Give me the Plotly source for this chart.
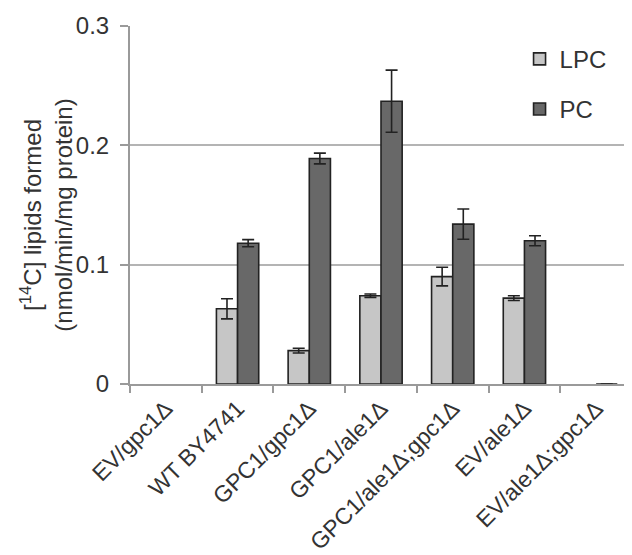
import plotly.graph_objects as go

categories = ["EV/gpc1Δ", "WT BY4741", "GPC1/gpc1Δ", "GPC1/ale1Δ",
              "GPC1/ale1Δ;gpc1Δ", "EV/ale1Δ", "EV/ale1Δ;gpc1Δ"]
lpc = [None, 0.063, 0.028, 0.074, 0.090, 0.072, None]
lpc_err = [0, 0.0084, 0.002, 0.0014, 0.0078, 0.002, 0]
pc = [None, 0.118, 0.189, 0.237, 0.134, 0.120, 0.0]
pc_err = [0, 0.003, 0.0045, 0.026, 0.0127, 0.0042, 0]
y_title = "[<sup>14</sup>C] lipids formed<br>(nmol/min/mg protein)"

fig = go.Figure()
fig.add_trace(go.Bar(
    x=categories, y=lpc, name="LPC", legendgroup="a",
    marker=dict(color="#c6c6c6", line=dict(color="#222222", width=1.6)),
    error_y=dict(type="data", array=lpc_err, color="#222222", thickness=1.6, width=6),
))
fig.add_trace(go.Bar(
    x=categories, y=pc, name="PC", legendgroup="b",
    marker=dict(color="#686868", line=dict(color="#222222", width=1.6)),
    error_y=dict(type="data", array=pc_err, color="#222222", thickness=1.6, width=6),
))

fig.update_layout(
    width=624, height=547,
    margin=dict(l=122, r=0, t=18, b=171),
    paper_bgcolor="white", plot_bgcolor="white",
    barmode="group", bargap=0.41, bargroupgap=0,
    font=dict(family="Liberation Sans, Arial, sans-serif", size=24, color="#333333"),
    showlegend=True,
    legend=dict(x=0.776, y=0.97, xanchor="left", yanchor="top",
                font=dict(size=24, color="#333333"), tracegroupgap=16,
                bgcolor="rgba(0,0,0,0)"),
    annotations=[dict(
        text=y_title, textangle=-90, xref="paper", yref="paper",
        x=-0.168, y=0.472, xanchor="center", yanchor="middle",
        showarrow=False, font=dict(size=24, color="#333333"),
    )],
)
fig.update_yaxes(
    range=[0, 0.3], tickvals=[0, 0.1, 0.2, 0.3], ticktext=["0", "0.1", "0.2", "0.3"],
    showgrid=True, gridcolor="#b4b4b4", gridwidth=1.5,
    showline=True, linecolor="#9a9a9a", linewidth=2,
    ticks="outside", ticklen=8, tickcolor="#9a9a9a", tickwidth=1.5,
    ticklabelstandoff=6,
    zeroline=False, automargin=False,
)
fig.update_xaxes(
    showline=True, linecolor="#9a9a9a", linewidth=2,
    ticks="outside", ticklen=7, tickcolor="#9a9a9a", tickwidth=1.5,
    tickson="boundaries", tickangle=-45, showgrid=False, automargin=False,
    tickfont=dict(size=23, color="#333333"),
)

fig.write_html("out.html")
